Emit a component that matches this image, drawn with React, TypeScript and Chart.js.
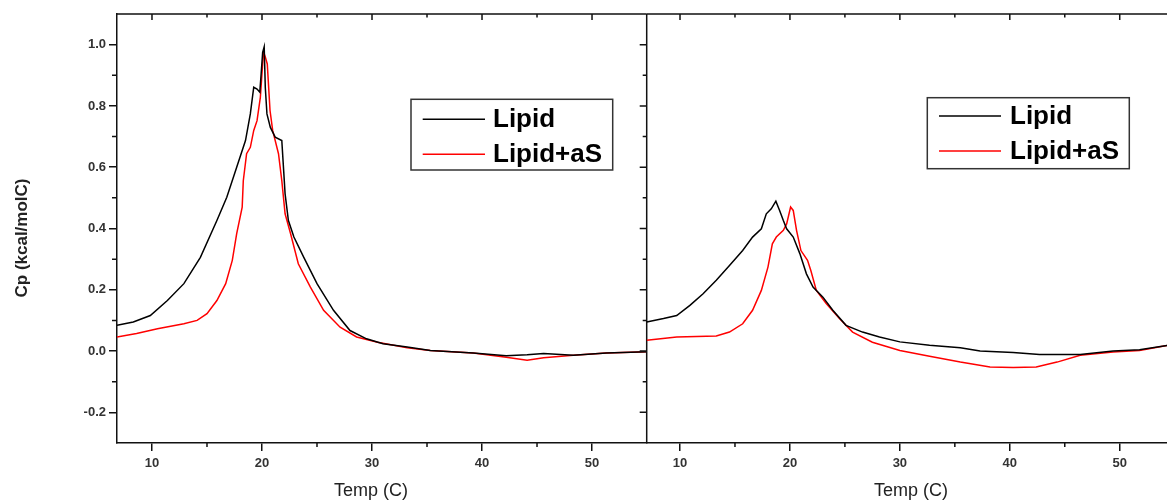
import React, { useEffect, useRef } from 'react';
import { Chart, registerables } from 'chart.js';

Chart.register(...registerables);

const FONT = 'Arial, "Liberation Sans", sans-serif';

// Series names
const seriesLabels = ['Lipid', 'Lipid+aS'];

// Tick values
const xMajorTicks = [10, 20, 30, 40, 50];
const xMinorTicks = [15, 25, 35, 45];
const yMajorTicks = [-0.2, 0, 0.2, 0.4, 0.6, 0.8, 1.0];
const yMinorTicks = [-0.1, 0.1, 0.3, 0.5, 0.7, 0.9];

// Left panel: Lipid
const leftLipidX = [6.82, 8.3, 9.85, 11.4, 12.9, 14.4, 15.9, 16.8, 17.7, 18.5, 18.94, 19.25, 19.55, 19.8, 19.9, 20.06, 20.2, 20.3, 20.45, 20.76, 21.2, 21.8, 21.97, 22.1, 22.4, 22.9, 23.8, 25, 26.5, 28, 29.5, 31, 33.2, 35.3, 39.2, 42.2, 44.1, 45.6, 48.3, 51.3, 55];
const leftLipidY = [0.084, 0.095, 0.116, 0.165, 0.22, 0.306, 0.426, 0.502, 0.6, 0.687, 0.774, 0.861, 0.855, 0.845, 0.893, 0.975, 0.993, 0.86, 0.774, 0.73, 0.698, 0.687, 0.589, 0.513, 0.426, 0.372, 0.306, 0.22, 0.133, 0.067, 0.04, 0.024, 0.013, 0.002, -0.006, -0.015, -0.012, -0.008, -0.014, -0.006, -0.002];

// Left panel: Lipid+aS
const leftAsX = [6.82, 8.6, 10.5, 12.9, 14.1, 15.0, 15.9, 16.7, 17.3, 17.7, 18.2, 18.3, 18.6, 18.94, 19.25, 19.55, 19.85, 20.06, 20.15, 20.3, 20.48, 20.73, 20.97, 21.5, 21.8, 22.1, 22.6, 23.3, 24.4, 25.6, 27.1, 28.6, 30.5, 33.2, 35.3, 39.2, 42.2, 44.1, 45.6, 48.3, 51.3, 55];
const leftAsY = [0.046, 0.057, 0.073, 0.089, 0.1, 0.122, 0.165, 0.22, 0.296, 0.383, 0.47, 0.556, 0.644, 0.665, 0.72, 0.752, 0.828, 0.937, 0.975, 0.96, 0.937, 0.785, 0.72, 0.644, 0.556, 0.448, 0.383, 0.285, 0.209, 0.133, 0.078, 0.046, 0.029, 0.011, 0.002, -0.006, -0.02, -0.03, -0.022, -0.014, -0.006, -0.002];

// Right panel: Lipid
const rightLipidX = [6.97, 8.5, 9.7, 10.9, 12.1, 13.3, 14.5, 15.7, 16.6, 17.4, 17.85, 18.3, 18.72, 19.06, 19.4, 19.7, 20.3, 20.9, 21.5, 22.1, 23.0, 23.9, 25.1, 26.6, 28.15, 30.0, 32.7, 35.5, 37.3, 40.3, 42.7, 46.4, 49.4, 51.8, 54.3];
const rightLipidY = [0.095, 0.106, 0.116, 0.149, 0.187, 0.231, 0.279, 0.328, 0.372, 0.399, 0.448, 0.464, 0.489, 0.459, 0.426, 0.399, 0.372, 0.318, 0.252, 0.209, 0.176, 0.133, 0.084, 0.062, 0.046, 0.03, 0.019, 0.011, 0.0, -0.005, -0.011, -0.011, 0.0, 0.004, 0.018];

// Right panel: Lipid+aS
const rightAsX = [6.97, 9.7, 13.3, 14.5, 15.7, 16.6, 17.4, 18.0, 18.4, 18.76, 19.4, 19.7, 20.06, 20.3, 20.6, 21.0, 21.6, 21.9, 22.4, 23.3, 24.5, 25.7, 27.5, 30.0, 32.7, 35.5, 38.2, 40.3, 42.4, 44.3, 46.4, 49.4, 51.8, 54.3];
const rightAsY = [0.035, 0.046, 0.049, 0.062, 0.089, 0.133, 0.198, 0.274, 0.35, 0.372, 0.394, 0.415, 0.47, 0.459, 0.394, 0.328, 0.296, 0.263, 0.198, 0.155, 0.106, 0.062, 0.029, 0.002, -0.017, -0.036, -0.052, -0.054, -0.052, -0.036, -0.014, -0.003, 0.002, 0.018];

const xTitle = 'Temp (C)';
const yTitle = 'Cp (kcal/molC)';

const AXIS_COLOR = '#111';
const LABEL_COLOR = '#333';

const decorPlugin = {
  id: 'decor',
  afterDraw(chart: any, _args: any, opts: any) {
    const { ctx, chartArea: a, scales } = chart;
    const xs = scales.x;
    const ys = scales.y;
    ctx.save();
    ctx.strokeStyle = AXIS_COLOR;
    ctx.lineWidth = 1.5;
    ctx.beginPath();
    // top border
    ctx.moveTo(a.left, a.top);
    ctx.lineTo(a.right, a.top);
    if (opts.rightBorder) {
      ctx.moveTo(a.right, a.top);
      ctx.lineTo(a.right, a.bottom);
    }
    // top inward ticks
    for (const v of xMajorTicks) {
      const p = xs.getPixelForValue(v);
      ctx.moveTo(p, a.top);
      ctx.lineTo(p, a.top + 6);
    }
    for (const v of xMinorTicks) {
      const p = xs.getPixelForValue(v);
      ctx.moveTo(p, a.top);
      ctx.lineTo(p, a.top + 3.5);
    }
    // bottom minor ticks (outward)
    for (const v of xMinorTicks) {
      const p = xs.getPixelForValue(v);
      ctx.moveTo(p, a.bottom);
      ctx.lineTo(p, a.bottom + 4);
    }
    if (opts.leftMinor) {
      for (const v of yMinorTicks) {
        const p = ys.getPixelForValue(v);
        ctx.moveTo(a.left, p);
        ctx.lineTo(a.left - 5, p);
      }
    }
    if (opts.rightBorder) {
      for (const v of yMajorTicks) {
        const p = ys.getPixelForValue(v);
        ctx.moveTo(a.right, p);
        ctx.lineTo(a.right - 7, p);
      }
      for (const v of yMinorTicks) {
        const p = ys.getPixelForValue(v);
        ctx.moveTo(a.right, p);
        ctx.lineTo(a.right - 4, p);
      }
    }
    ctx.stroke();

    // axis titles
    ctx.fillStyle = '#222';
    ctx.textAlign = 'center';
    ctx.textBaseline = 'middle';
    ctx.font = `18px ${FONT}`;
    ctx.fillText(xTitle, opts.xTitleX, opts.xTitleY);
    if (opts.showYTitle) {
      ctx.save();
      ctx.translate(opts.yTitleX, opts.yTitleY);
      ctx.rotate(-Math.PI / 2);
      ctx.font = `bold 17px ${FONT}`;
      ctx.fillText(yTitle, 0, 0);
      ctx.restore();
    }

    // legend
    const L = opts.legend;
    ctx.strokeStyle = '#333';
    ctx.lineWidth = 1.5;
    ctx.strokeRect(L.x, L.y, L.w, L.h);
    chart.data.datasets.forEach((ds: any, i: number) => {
      ctx.strokeStyle = ds.borderColor;
      ctx.lineWidth = 1.5;
      ctx.beginPath();
      ctx.moveTo(L.x1, L.rows[i]);
      ctx.lineTo(L.x2, L.rows[i]);
      ctx.stroke();
      ctx.fillStyle = '#000';
      ctx.textAlign = 'left';
      ctx.textBaseline = 'alphabetic';
      ctx.font = `bold 26px ${FONT}`;
      ctx.fillText(ds.label, L.textX, L.rows[i] + 8);
    });
    ctx.restore();
  },
};

type PanelProps = {
  left: number;
  width: number;
  xMin: number;
  xMax: number;
  lipidX: number[];
  lipidY: number[];
  asX: number[];
  asY: number[];
  showYAxis: boolean;
  padLeft: number;
  padRight: number;
  decor: any;
};

function Panel(props: PanelProps) {
  const ref = useRef<HTMLCanvasElement | null>(null);
  useEffect(() => {
    const canvas = ref.current;
    if (!canvas) return;
    const toPts = (xs: number[], ys: number[]) => xs.map((x, i) => ({ x, y: ys[i] }));
    const tickFont = { family: FONT, size: 13, weight: 'bold' as const };
    const chart = new Chart(canvas, {
      type: 'line',
      data: {
        datasets: [
          {
            label: seriesLabels[0],
            data: toPts(props.lipidX, props.lipidY),
            borderColor: '#000000',
            borderWidth: 1.5,
            pointRadius: 0,
            tension: 0,
          },
          {
            label: seriesLabels[1],
            data: toPts(props.asX, props.asY),
            borderColor: '#ff0000',
            borderWidth: 1.5,
            pointRadius: 0,
            tension: 0,
          },
        ],
      },
      options: {
        animation: false,
        responsive: false,
        parsing: false,
        layout: { padding: { left: props.padLeft, right: props.padRight, top: 14, bottom: 0 } },
        plugins: {
          legend: { display: false },
          tooltip: { enabled: false },
          decor: props.decor,
        } as any,
        scales: {
          x: {
            type: 'linear',
            min: props.xMin,
            max: props.xMax,
            afterBuildTicks: (s: any) => {
              s.ticks = xMajorTicks.map((v) => ({ value: v }));
            },
            afterFit: (s: any) => {
              s.height = 58;
            },
            ticks: {
              font: tickFont,
              color: LABEL_COLOR,
              padding: 5,
              maxRotation: 0,
              callback: (v: any) => String(v),
            },
            grid: {
              drawOnChartArea: false,
              drawTicks: true,
              tickLength: 8,
              color: AXIS_COLOR,
              tickColor: AXIS_COLOR,
              tickWidth: 1.5,
              lineWidth: 1.5,
            },
            border: { display: true, color: AXIS_COLOR, width: 1.5 },
          },
          y: {
            type: 'linear',
            display: props.showYAxis,
            min: -0.3,
            max: 1.1,
            afterBuildTicks: (s: any) => {
              s.ticks = yMajorTicks.map((v) => ({ value: v }));
            },
            afterFit: (s: any) => {
              s.width = props.showYAxis ? 117 : 0;
            },
            ticks: {
              font: tickFont,
              color: LABEL_COLOR,
              padding: 3,
              callback: (v: any) => Number(v).toFixed(1),
            },
            grid: {
              drawOnChartArea: false,
              drawTicks: true,
              tickLength: 8,
              color: AXIS_COLOR,
              tickColor: AXIS_COLOR,
              tickWidth: 1.5,
              lineWidth: 1.5,
            },
            border: { display: true, color: AXIS_COLOR, width: 1.5 },
          },
        },
      },
      plugins: [decorPlugin as any],
    });
    return () => chart.destroy();
  }, []);
  return (
    <canvas
      ref={ref}
      width={props.width}
      height={501}
      style={{ position: 'absolute', left: props.left, top: 0, width: props.width, height: 501 }}
    />
  );
}

export default function App() {
  return (
    <div
      style={{
        position: 'absolute',
        left: 0,
        top: 0,
        width: 1167,
        height: 501,
        background: '#ffffff',
        overflow: 'hidden',
      }}
    >
      <Panel
        left={0}
        width={660}
        xMin={6.82}
        xMax={54.97}
        lipidX={leftLipidX}
        lipidY={leftLipidY}
        asX={leftAsX}
        asY={leftAsY}
        showYAxis={true}
        padLeft={0}
        padRight={13.3}
        decor={{
          rightBorder: true,
          leftMinor: true,
          showYTitle: true,
          xTitleX: 371,
          xTitleY: 491,
          yTitleX: 22,
          yTitleY: 238,
          legend: { x: 411, y: 99.3, w: 201.7, h: 70.7, x1: 422.7, x2: 485, rows: [119.3, 154.3], textX: 493 },
        }}
      />
      <Panel
        left={640}
        width={527}
        xMin={6.97}
        xMax={54.3}
        lipidX={rightLipidX}
        lipidY={rightLipidY}
        asX={rightAsX}
        asY={rightAsY}
        showYAxis={false}
        padLeft={6.7}
        padRight={0}
        decor={{
          rightBorder: false,
          leftMinor: false,
          showYTitle: false,
          xTitleX: 271,
          xTitleY: 491,
          yTitleX: 0,
          yTitleY: 0,
          legend: { x: 287.3, y: 97.7, w: 202, h: 71, x1: 299, x2: 361, rows: [116, 151], textX: 370 },
        }}
      />
    </div>
  );
}
